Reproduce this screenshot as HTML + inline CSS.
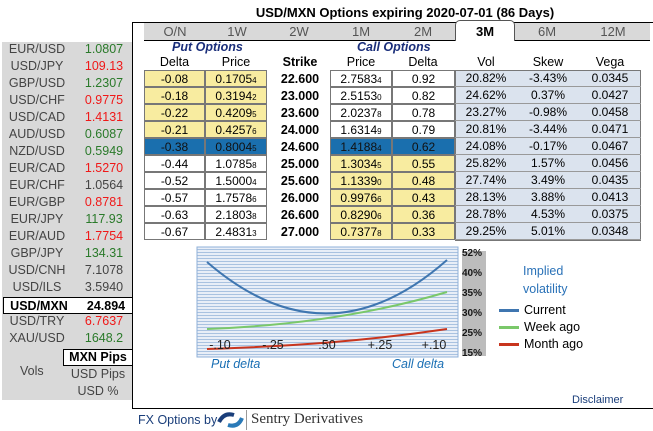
<!DOCTYPE html>
<html><head><meta charset="utf-8"><style>
*{margin:0;padding:0;box-sizing:border-box}
body{width:653px;height:431px;background:#fff;font-family:"Liberation Sans",Arial,sans-serif;position:relative;overflow:hidden;font-size:12px;color:#000}
.a{position:absolute}
#left{left:2px;top:42px;width:130px;height:358px;background:#d9d9d9}
.lr{position:absolute;left:0;width:130px;height:17px;line-height:17px;font-size:12.5px}
.lr .n{position:absolute;left:0;width:70px;text-align:center;color:#444}
.lr .v{position:absolute;left:78px;width:48px;text-align:center}
.g{color:#2a7a2a}.r{color:#f01818}.k{color:#444}
#main{left:132px;top:22px;width:530px;height:387px;border:1.5px solid #000;border-right:none}
.tab{position:absolute;top:23px;height:17px;line-height:17px;text-align:center;font-size:13px;color:#555;background:#d9d9d9}
.cell{position:absolute;height:16px;line-height:16px;text-align:center;font-size:12px;border:1px solid #777}
.y{background:#f8eca0}.w{background:#fff}.b{background:#1a6fae;color:#111}
.st{position:absolute;left:278px;width:44px;text-align:center;font-weight:bold;font-size:12.5px;height:17px;line-height:17px}
.hd{position:absolute;top:55px;font-size:12.5px;text-align:center}
sub{font-size:8px;vertical-align:baseline}
</style></head><body>
<div class="a" style="left:240px;top:5px;width:330px;text-align:center;font-weight:bold;font-size:13px">USD/MXN Options expiring 2020-07-01 (86 Days)</div>
<div id="left" class="a"></div>
<div class="a" id="main"></div>
<div class="a" style="left:144px;top:23px;width:506px;height:17px;background:#d9d9d9"></div>
<div class="tab" style="left:144px;width:62px">O/N</div>
<div class="tab" style="left:206px;width:62px">1W</div>
<div class="tab" style="left:268px;width:62px">2W</div>
<div class="tab" style="left:330px;width:62px">1M</div>
<div class="tab" style="left:392px;width:62px">2M</div>
<div class="tab" style="left:455px;width:60px;background:#fff;color:#000;font-weight:bold;border:1px solid #555;border-bottom:none;border-radius:5px 5px 0 0;top:20px;height:21px;line-height:21px">3M</div>
<div class="tab" style="left:516px;width:62px">6M</div>
<div class="tab" style="left:578px;width:70px">12M</div>
<div class="a" style="left:144px;top:40px;width:311px;border-top:1px solid #000"></div>
<div class="a" style="left:515px;top:40px;width:135px;border-top:1px solid #000"></div>
<div class="a" style="left:172px;top:40px;color:#1a2e7a;font-weight:bold;font-style:italic;font-size:12.5px">Put Options</div>
<div class="a" style="left:357px;top:40px;color:#1a2e7a;font-weight:bold;font-style:italic;font-size:12.5px">Call Options</div>
<div class="hd" style="left:144px;width:61px">Delta</div>
<div class="hd" style="left:205px;width:62px">Price</div>
<div class="hd" style="left:278px;width:44px;font-weight:bold">Strike</div>
<div class="hd" style="left:330px;width:62px">Price</div>
<div class="hd" style="left:392px;width:62px">Delta</div>
<div class="hd" style="left:455px;width:62px">Vol</div>
<div class="hd" style="left:517px;width:62px">Skew</div>
<div class="hd" style="left:579px;width:62px">Vega</div>
<div class="a" style="left:455px;top:70px;width:186px;height:171px;background:#dbe3ee;border:1px solid #777"></div>
<div id="rows"></div>
<svg class="a" style="left:196px;top:246px" width="300" height="115">
<defs><pattern id="p" width="4" height="3" patternUnits="userSpaceOnUse"><rect width="4" height="3" fill="#e8eef7"/><rect width="4" height="1" fill="#a9c2e0"/></pattern></defs>
<rect x="1" y="1" width="261" height="110" fill="url(#p)" stroke="#8fb0d8"/>
<path d="M11 16 Q131 120 251 14" fill="none" stroke="#3f76b0" stroke-width="2"/>
<path d="M11 83 C90 80 170 70 251 46" fill="none" stroke="#7ac86a" stroke-width="2"/>
<path d="M11 103 C100 100 170 95 251 83" fill="none" stroke="#c8351e" stroke-width="2"/>
<g font-size="12.5" fill="#222" text-anchor="middle"><text x="24" y="103">-.10</text><text x="77" y="103">-.25</text><text x="131" y="103">.50</text><text x="184" y="103">+.25</text><text x="238" y="103">+.10</text></g>
<rect x="266" y="2" width="25" height="113" fill="#fff"/>
<g font-size="10" font-weight="bold" fill="#111"><text x="266" y="10">52%</text><text x="266" y="30">40%</text><text x="266" y="50">35%</text><text x="266" y="70">30%</text><text x="266" y="90">25%</text><text x="266" y="110">15%</text></g>
<rect x="266" y="5" width="24" height="105" fill="#222" opacity="0.3"/>
</svg>
<div class="a" style="left:211px;top:357px;color:#1a6fb4;font-style:italic;font-size:12.5px">Put delta</div>
<div class="a" style="left:392px;top:357px;color:#1a6fb4;font-style:italic;font-size:12.5px">Call delta</div>
<div class="a" style="left:523px;top:262px;color:#2a72b8;font-size:12.5px;line-height:18px">Implied<br>volatility</div>
<div class="a" style="left:499px;top:309px;width:20px;height:3px;background:#3f76b0"></div>
<div class="a" style="left:499px;top:326px;width:20px;height:3px;background:#7ac86a"></div>
<div class="a" style="left:499px;top:343px;width:20px;height:3px;background:#c8351e"></div>
<div class="a" style="left:524px;top:302px;font-size:12.5px;line-height:17px">Current<br>Week ago<br>Month ago</div>
<div class="a" style="left:572px;top:394px;color:#1a3e7a;font-size:11px">Disclaimer</div>
<div class="a" style="left:138px;top:413px;color:#1a3e7a;font-size:12.5px">FX Options by</div>
<svg class="a" style="left:216px;top:410px" width="30" height="20"><path d="M3 12 Q8 2 18 5" stroke="#1a3e7a" stroke-width="4" fill="none"/><path d="M26 8 Q22 18 12 15" stroke="#2a7ab8" stroke-width="4" fill="none"/></svg>
<div class="a" style="left:246px;top:410px;height:20px;border-left:1px solid #999"></div>
<div class="a" style="left:251px;top:411px;font-family:'Liberation Serif',serif;font-size:15px;color:#333">Sentry Derivatives</div>
<div id="lp"></div>
<script>
var L=[["EUR/USD","1.0807","g"],["USD/JPY","109.13","r"],["GBP/USD","1.2307","g"],["USD/CHF","0.9775","r"],["USD/CAD","1.4131","r"],["AUD/USD","0.6087","g"],["NZD/USD","0.5949","g"],["EUR/CAD","1.5270","r"],["EUR/CHF","1.0564","k"],["EUR/GBP","0.8781","r"],["EUR/JPY","117.93","g"],["EUR/AUD","1.7754","r"],["GBP/JPY","134.31","g"],["USD/CNH","7.1078","k"],["USD/ILS","3.5940","k"],["USD/MXN","24.894","x"],["USD/TRY","6.7637","r"],["XAU/USD","1648.2","g"]];
var h="";L.forEach(function(e,i){var t=41+i*17;
if(e[2]=="x")h+='<div class="lr" style="left:3px;top:'+(t+1)+'px;background:#fff;border:1px solid #000;font-weight:bold;width:130px"><span class="n" style="color:#000">'+e[0]+'</span><span class="v" style="color:#000">'+e[1]+'</span></div>';
else h+='<div class="lr" style="left:2px;top:'+t+'px"><span class="n">'+e[0]+'</span><span class="v '+e[2]+'">'+e[1]+'</span></div>';});
h+='<div class="a" style="left:63px;top:349px;width:70px;height:17px;background:#fff;border:1px solid #000;font-weight:bold;text-align:center;line-height:15px;font-size:12.5px">MXN Pips</div>';
h+='<div class="a" style="left:20px;top:364px;color:#444;font-size:12.5px">Vols</div>';
h+='<div class="a" style="left:63px;top:367px;width:70px;text-align:center;color:#444;font-size:12.5px">USD Pips</div>';
h+='<div class="a" style="left:63px;top:384px;width:70px;text-align:center;color:#444;font-size:12.5px">USD %</div>';
document.getElementById("lp").innerHTML=h;
var R=[["-0.08","0.1705","4","22.600","2.7583","4","0.92","20.82%","-3.43%","0.0345"],["-0.18","0.3194","2","23.000","2.5153","0","0.82","24.62%","0.37%","0.0427"],["-0.22","0.4209","5","23.600","2.0237","8","0.78","23.27%","-0.98%","0.0458"],["-0.21","0.4257","6","24.000","1.6314","9","0.79","20.81%","-3.44%","0.0471"],["-0.38","0.8004","5","24.600","1.4188","4","0.62","24.08%","-0.17%","0.0467"],["-0.44","1.0785","8","25.000","1.3034","5","0.55","25.82%","1.57%","0.0456"],["-0.52","1.5000","4","25.600","1.1339","0","0.48","27.74%","3.49%","0.0435"],["-0.57","1.7578","6","26.000","0.9976","6","0.43","28.13%","3.88%","0.0413"],["-0.63","2.1803","8","26.600","0.8290","6","0.36","28.78%","4.53%","0.0375"],["-0.67","2.4831","3","27.000","0.7377","8","0.33","29.25%","5.01%","0.0348"]];
h="";R.forEach(function(e,i){var t=70+i*17;var pc=i<4?"y":(i==4?"b":"w"),cc=i<4?"w":(i==4?"b":"y");
h+='<div class="cell '+pc+'" style="left:144px;top:'+t+'px;width:61px;height:17px">'+e[0]+'</div>';
h+='<div class="cell '+pc+'" style="left:205px;top:'+t+'px;width:62px;height:17px">'+e[1]+'<sub>'+e[2]+'</sub></div>';
h+='<div class="st" style="top:'+(t+1)+'px">'+e[3]+'</div>';
h+='<div class="cell '+cc+'" style="left:330px;top:'+t+'px;width:62px;height:17px">'+e[4]+'<sub>'+e[5]+'</sub></div>';
h+='<div class="cell '+cc+'" style="left:392px;top:'+t+'px;width:63px;height:17px">'+e[6]+'</div>';
[7,8,9].forEach(function(k,j){h+='<div class="a" style="left:'+(455+j*62)+'px;top:'+t+'px;width:62px;height:17px;line-height:17px;text-align:center;border-bottom:1px solid #999;font-size:12px">'+e[k]+'</div>';});
});
document.getElementById("rows").innerHTML=h;
</script>
</body></html>
